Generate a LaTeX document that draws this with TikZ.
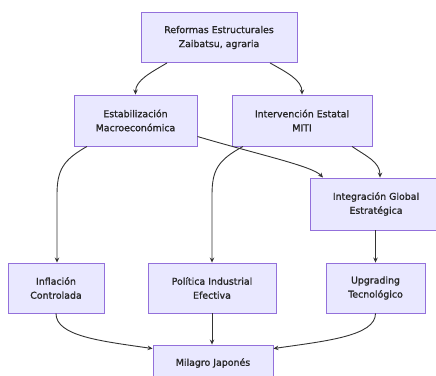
\documentclass[tikz,border=0pt]{standalone}
\usepackage{fontspec}
\setmainfont{DejaVu Sans}
\newfontfamily\boxfont{DejaVu Sans}[FakeBold=1.2]
\usetikzlibrary{arrows.meta}
\definecolor{boxfill}{HTML}{E9E8FF}
\definecolor{boxline}{HTML}{9370DB}
\definecolor{edgeline}{HTML}{333333}
\definecolor{txt}{HTML}{262626}
\begin{document}
\begin{tikzpicture}[x=1pt,y=-1pt,
  stage/.style={draw=boxline,fill=boxfill,line width=0.9pt,align=center,
    inner sep=0pt,font=\boxfont\fontsize{9.4}{14}\selectfont,text=txt},
  flow/.style={draw=edgeline,line width=0.9pt,-{Stealth[length=5pt,width=4.5pt]}}]
\useasboundingbox (0,0) rectangle (436,375);
\begin{scope}
\clip (0,0) rectangle (436,375);
% nodes
\node[stage,minimum width=156pt,minimum height=50pt] (ref) at (219,37.5) {Reformas Estructurales\\Zaibatsu, agraria};
\node[stage,minimum width=123pt,minimum height=51pt] (est) at (135.5,120.5) {Estabilización\\Macroeconómica};
\node[stage,minimum width=140pt,minimum height=51pt] (int) at (302,120.5) {Intervención Estatal\\MITI};
\node[stage,minimum width=132pt,minimum height=52pt] (glo) at (376,204) {Integración Global\\Estratégica};
\node[stage,minimum width=96pt,minimum height=50pt] (inf) at (56,288) {Inflación\\Controlada};
\node[stage,minimum width=128pt,minimum height=50pt] (pol) at (212,288) {Política Industrial\\Efectiva};
\node[stage,minimum width=99pt,minimum height=50pt] (upg) at (375.5,288) {Upgrading\\Tecnológico};
\node[stage,minimum width=120pt,minimum height=36pt] (mil) at (213,363) {Milagro Japonés};
% connectors
\draw[flow] ([xshift=-52pt]ref.south) .. controls (152,72) and (135.5,80) .. (est.north);
\draw[flow] ([xshift=51pt]ref.south) .. controls (286,72) and (302,80) .. (int.north);
\draw[flow] ([yshift=-16pt]est.east) .. controls (260,155) and (312,166) .. ([xshift=-53pt]glo.north);
\draw[flow] ([xshift=50pt]int.south) .. controls (366,156) and (380,162) .. ([xshift=4pt]glo.north);
\draw[flow] ([xshift=-48.5pt]est.south) .. controls (63,160) and (57,170) .. (57,195) -- (inf.north -| 57,0);
\draw[flow] ([xshift=-59pt]int.south) .. controls (218,160) and (212,170) .. (212,195) -- (pol.north);
\draw[flow] (glo.south -| upg.north) -- (upg.north);
\draw[flow] (inf.south) .. controls (56,336) and (100,341) .. ([yshift=-4pt]mil.north west);
\draw[flow] (pol.south) -- (pol.south |- mil.north);
\draw[flow] (upg.south) .. controls (375.5,336) and (326,341) .. ([yshift=-4pt]mil.north east);
\end{scope}
\end{tikzpicture}
\end{document}
